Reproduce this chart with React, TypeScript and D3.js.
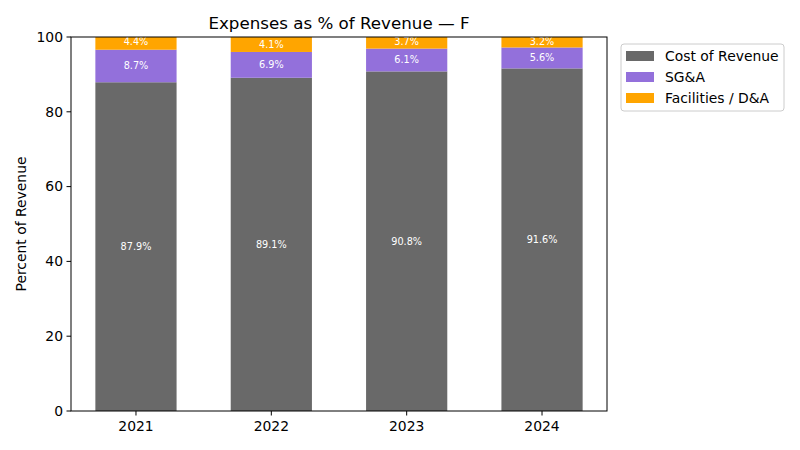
import React from 'react';
import * as d3 from 'd3';

const years = ['2021', '2022', '2023', '2024'];
const costOfRevenue = [87.9, 89.1, 90.8, 91.6];
const sga = [8.7, 6.9, 6.1, 5.6];
const facilities = [4.4, 4.1, 3.7, 3.2];
const yTicks = [0, 20, 40, 60, 80, 100];

const seriesNames = ['Cost of Revenue', 'SG&A', 'Facilities / D&A'];
const seriesColors = ['#696969', '#9370DB', '#FFA500'];

export default function App() {
  const width = 800;
  const height = 450;
  const margin = { top: 37, right: 193, bottom: 39, left: 71 };
  const innerW = width - margin.left - margin.right;
  const innerH = height - margin.top - margin.bottom;

  const x = d3.scaleLinear().domain([-0.48, years.length - 1 + 0.48]).range([0, innerW]);
  const y = d3.scaleLinear().domain([0, 100]).range([innerH, 0]);
  const barW = x(0.6) - x(0);

  const rows = years.map((yr, i) => ({ yr, i, cor: costOfRevenue[i], sga: sga[i], fac: facilities[i] }));
  const stack = d3.stack<any>().keys(['cor', 'sga', 'fac'])(rows);

  const font = 'DejaVu Sans, sans-serif';

  return (
    <svg width={width} height={height} style={{ position: 'absolute', left: 0, top: 0, background: '#fff' }} fontFamily={font}>
      <defs>
        <clipPath id="plot-clip">
          <rect x={0} y={0} width={innerW} height={innerH} />
        </clipPath>
      </defs>
      <text x={margin.left + innerW / 2} y={29} textAnchor="middle" fontSize={16.7} fill="#000">
        Expenses as % of Revenue — F
      </text>
      <g transform={`translate(${margin.left},${margin.top})`}>
        <g clipPath="url(#plot-clip)">
          {stack.map((layer, si) =>
            layer.map((d, i) => (
              <rect
                key={`${si}-${i}`}
                x={x(i) - barW / 2}
                y={y(d[1])}
                width={barW}
                height={y(d[0]) - y(d[1])}
                fill={seriesColors[si]}
              />
            ))
          )}
          {stack.map((layer, si) =>
            layer.map((d, i) => (
              <text
                key={`l-${si}-${i}`}
                x={x(i)}
                y={y((d[0] + d[1]) / 2)}
                dy="0.35em"
                textAnchor="middle"
                fontSize={9.7}
                fill="#fff"
              >
                {`${(d[1] - d[0]).toFixed(1)}%`}
              </text>
            ))
          )}
        </g>
        <rect x={0} y={0} width={innerW} height={innerH} fill="none" stroke="#000" strokeWidth={1} />
        {years.map((yr, i) => (
          <g key={yr} transform={`translate(${x(i)},${innerH})`}>
            <line y1={0} y2={4.5} stroke="#000" />
            <text y={20} textAnchor="middle" fontSize={13.9} fill="#000">
              {yr}
            </text>
          </g>
        ))}
        {yTicks.map((t) => (
          <g key={t} transform={`translate(0,${y(t)})`}>
            <line x1={-4.5} x2={0} stroke="#000" />
            <text x={-8} dy="0.35em" textAnchor="end" fontSize={13.9} fill="#000">
              {t}
            </text>
          </g>
        ))}
        <text
          transform={`translate(${-45},${innerH / 2}) rotate(-90)`}
          textAnchor="middle"
          fontSize={13.9}
          fill="#000"
        >
          Percent of Revenue
        </text>
      </g>
      <g transform="translate(621,44)">
        <rect x={0} y={0} width={163} height={67} rx={3} fill="#fff" stroke="#ccc" strokeWidth={1} />
        {seriesNames.map((name, i) => (
          <g key={name} transform={`translate(0,${12 + i * 21})`}>
            <rect x={5} y={-5} width={28} height={10} fill={seriesColors[i]} />
            <text x={44} dy="0.35em" fontSize={13.9} fill="#000">
              {name}
            </text>
          </g>
        ))}
      </g>
    </svg>
  );
}
